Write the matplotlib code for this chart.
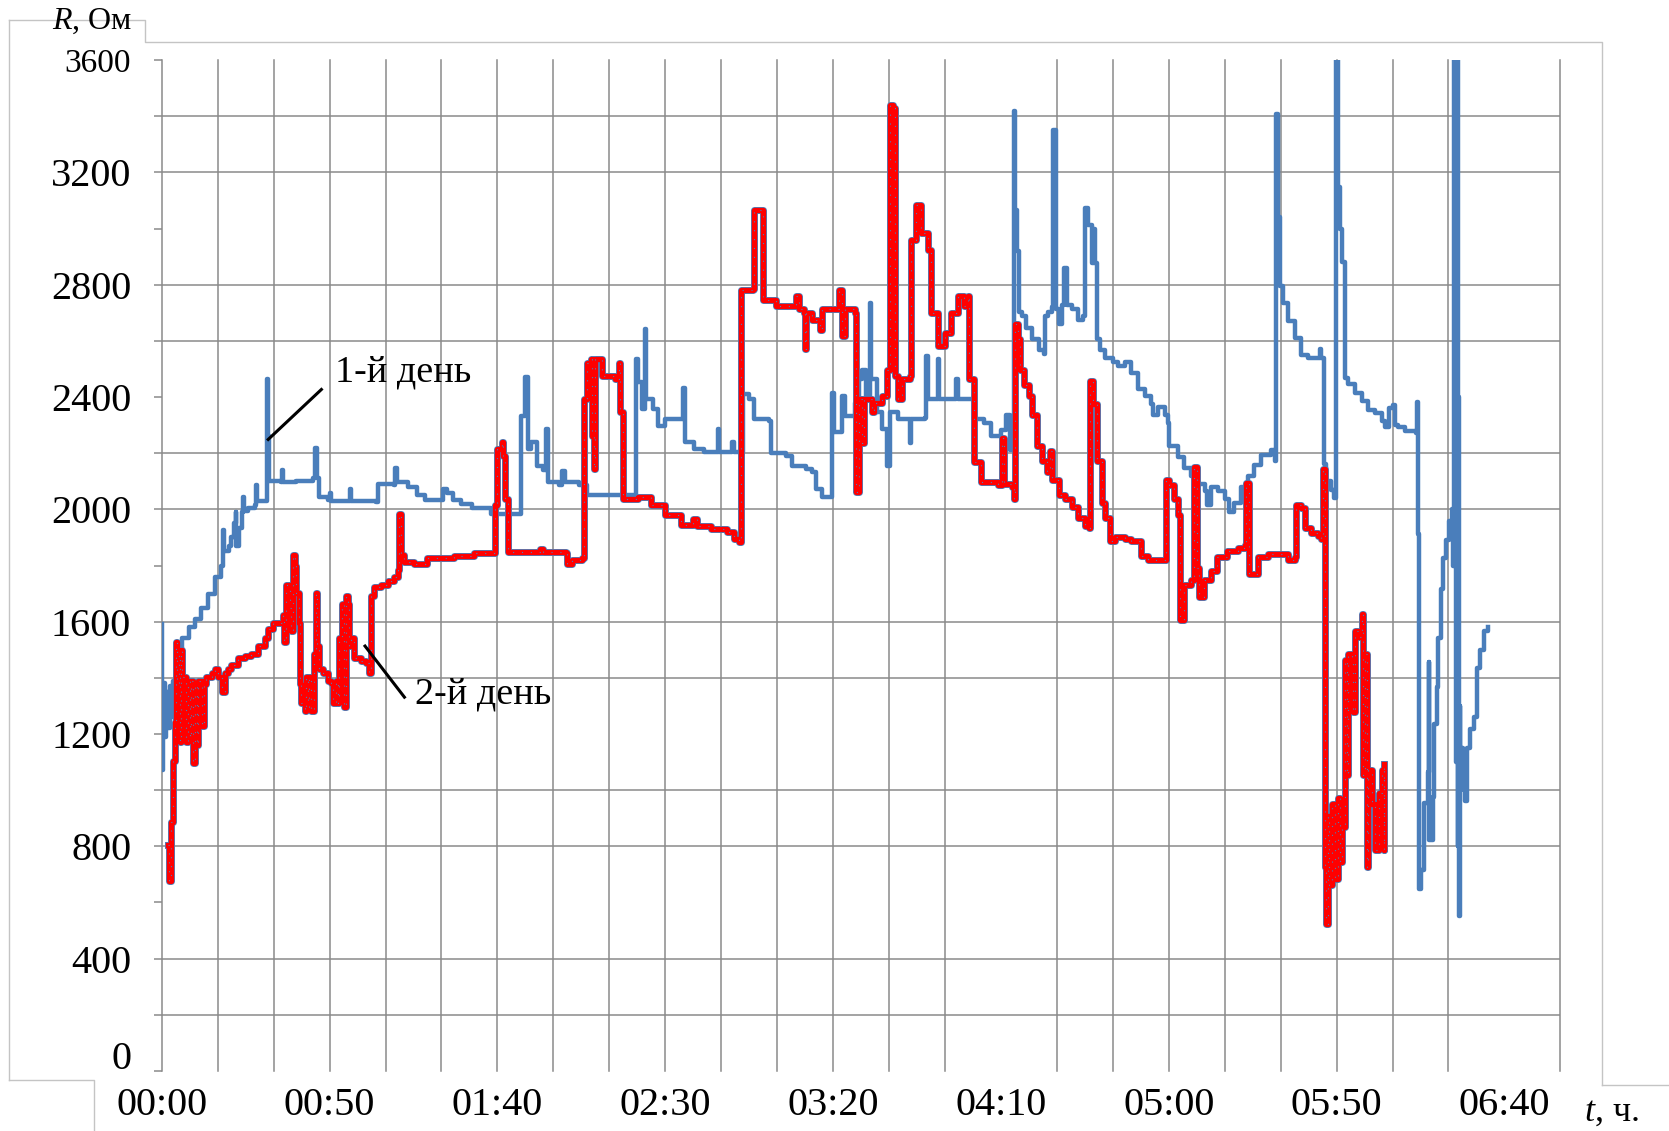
import numpy as np
import matplotlib
matplotlib.use('Agg')
import matplotlib.pyplot as plt
from matplotlib.lines import Line2D
from matplotlib.transforms import ScaledTranslation

plt.rcParams['font.family'] = ['Liberation Serif', 'DejaVu Serif']
plt.rcParams['mathtext.fontset'] = 'custom'
plt.rcParams['mathtext.rm'] = 'Liberation Serif'
plt.rcParams['mathtext.it'] = 'Liberation Serif:italic'

# time in seconds from start, resistance in Ohm
day1 = [
    (0, 1590), (0, 1070), (20, 1380), (50, 1190), (80, 1350), (110, 1220), (140, 1370),
    (170, 1260), (200, 1390), (230, 1300), (260, 1400), (280, 1360), (300, 1460),
    (360, 1540), (480, 1580), (600, 1610), (710, 1650), (830, 1700), (950, 1760),
    (1060, 1800), (1090, 1840), (1100, 1925), (1115, 1850), (1200, 1870), (1240, 1900),
    (1300, 1950), (1320, 1990), (1335, 1870), (1390, 1935), (1440, 1990), (1455, 2045),
    (1470, 1995), (1550, 2005), (1660, 2015), (1690, 2085), (1705, 2030), (1860, 2030),
    (1875, 2465), (1895, 2260), (1925, 2100), (2140, 2098), (2150, 2140), (2170, 2098),
    (2400, 2100), (2700, 2110), (2735, 2220), (2780, 2110), (2815, 2045), (2970, 2035),
    (3000, 2057), (3030, 2030), (3350, 2030), (3365, 2071), (3390, 2030), (3830, 2026),
    (3860, 2091), (4150, 2085), (4175, 2146), (4210, 2098), (4400, 2078), (4570, 2050),
    (4700, 2035), (5000, 2035), (5020, 2071), (5100, 2057), (5200, 2035), (5350, 2018),
    (5550, 2005), (5880, 1985), (6420, 1985), (6430, 2334), (6490, 2470), (6550, 2215),
    (6600, 2240), (6700, 2156), (6810, 2140), (6860, 2286), (6910, 2097), (7100, 2085),
    (7160, 2138), (7200, 2097), (7460, 2085), (7600, 2052), (8460, 2050), (8470, 2535),
    (8520, 2452), (8576, 2357), (8635, 2641), (8660, 2393), (8782, 2357), (8870, 2298),
    (8988, 2322), (9282, 2322), (9320, 2434), (9360, 2239), (9518, 2215), (9700, 2204),
    (9950, 2286), (9970, 2204), (10165, 2204), (10200, 2240), (10230, 2204), (10330, 2204),
    (10385, 2410), (10500, 2392), (10590, 2321), (10860, 2315), (10890, 2202), (11150, 2190),
    (11270, 2155), (11510, 2143), (11630, 2132), (11690, 2072), (11800, 2043), (11970, 2043),
    (11982, 2416), (12010, 2274), (12160, 2404), (12220, 2333), (12400, 2380), (12460, 2463),
    (12515, 2498), (12580, 2392), (12655, 2735), (12680, 2463), (12780, 2345), (12870, 2286),
    (12960, 2155), (13020, 2345), (13165, 2321), (13340, 2321), (13370, 2238), (13400, 2321),
    (13640, 2327), (13670, 2546), (13700, 2392), (13875, 2534), (13900, 2392), (14200, 2463),
    (14230, 2392), (14350, 2392), (14525, 2321), (14700, 2309), (14820, 2262), (15000, 2281),
    (15100, 2335), (15160, 2213), (15200, 2230), (15230, 3420), (15260, 3068), (15290, 2919),
    (15320, 2702), (15380, 2688), (15440, 2647), (15555, 2607), (15675, 2566), (15763, 2553),
    (15790, 2688), (15850, 2702), (15910, 2720), (15940, 3353), (15985, 2715), (16030, 2661),
    (16090, 2729), (16135, 2858), (16175, 2729), (16270, 2715), (16385, 2675), (16475, 2688),
    (16500, 3075), (16560, 3014), (16620, 2878), (16670, 3000), (16690, 2878), (16710, 2607),
    (16770, 2566), (16860, 2539), (17000, 2525), (17095, 2512), (17215, 2525), (17330, 2485),
    (17450, 2430), (17570, 2403), (17690, 2376), (17720, 2336), (17805, 2363), (17925, 2336),
    (17985, 2308), (18000, 2227), (18100, 2227), (18160, 2186), (18280, 2146), (18400, 2119),
    (18520, 2091), (18640, 2064), (18690, 2016), (18760, 2078), (18875, 2064), (19000, 2037),
    (19080, 1990), (19170, 2024), (19290, 2078), (19410, 2119), (19530, 2159), (19650, 2193),
    (19820, 2213), (19900, 2173), (19920, 3407), (19960, 3041), (19990, 2795), (20040, 2734),
    (20130, 2672), (20250, 2611), (20370, 2549), (20490, 2539), (20670, 2540), (20700, 2570),
    (20720, 2540), (20770, 2540), (20780, 2160), (20820, 2100), (20900, 2070), (20960, 2040),
    (20990, 3700), (21010, 3700), (21030, 3150), (21070, 3000), (21100, 2880), (21150, 2467),
    (21210, 2447), (21330, 2416), (21450, 2385), (21570, 2354), (21690, 2344), (21810, 2313),
    (21865, 2295), (21930, 2360), (22000, 2371), (22040, 2300), (22100, 2295), (22220, 2280),
    (22425, 2273), (22440, 2382), (22450, 1913), (22480, 649), (22510, 714), (22570, 954),
    (22630, 1063), (22645, 1456), (22660, 823), (22720, 976), (22750, 1237), (22795, 1368),
    (22820, 1543), (22865, 1717), (22910, 1826), (22950, 1891), (23010, 1957), (23070, 2000),
    (23090, 1800), (23100, 3700), (23115, 2600), (23125, 3700), (23140, 1100), (23150, 3700),
    (23165, 800), (23175, 2400), (23185, 550), (23200, 1300), (23215, 1000), (23230, 1150),
    (23260, 1050), (23280, 1130), (23300, 960), (23335, 1150), (23380, 1216), (23450, 1259),
    (23510, 1434), (23570, 1499), (23630, 1565), (23700, 1580),
]

day2 = [
    (120, 806), (125, 676), (166, 887), (208, 1105), (238, 1241), (250, 1527), (270, 1377),
    (300, 1486), (320, 1173), (340, 1500), (356, 1404), (416, 1404), (440, 1173), (470, 1390),
    (500, 1186), (530, 1390), (564, 1098), (590, 1377), (623, 1159), (650, 1390), (713, 1227),
    (760, 1377), (790, 1404), (850, 1404), (900, 1418), (950, 1431), (1010, 1404), (1069, 1350),
    (1128, 1418), (1188, 1431), (1247, 1445), (1366, 1472), (1484, 1479), (1603, 1486),
    (1722, 1513), (1841, 1540), (1900, 1574), (1990, 1595), (2078, 1595), (2167, 1622),
    (2190, 1527), (2226, 1731), (2286, 1649), (2310, 1567), (2345, 1839), (2375, 1799),
    (2400, 1703), (2446, 1595), (2464, 1377), (2490, 1309), (2553, 1282), (2580, 1404),
    (2613, 1295), (2640, 1404), (2672, 1282), (2720, 1486), (2760, 1703), (2780, 1513),
    (2820, 1431), (2880, 1418), (2970, 1390), (3030, 1380), (3060, 1309), (3117, 1390),
    (3150, 1309), (3177, 1540), (3218, 1663), (3250, 1295), (3295, 1690), (3325, 1663),
    (3355, 1513), (3385, 1540), (3444, 1472), (3563, 1459), (3652, 1452), (3711, 1418),
    (3741, 1690), (3800, 1724), (3919, 1731), (4038, 1744), (4157, 1758), (4216, 1785),
    (4246, 1982), (4276, 1839), (4330, 1812), (4513, 1805), (4750, 1826), (4988, 1826),
    (5225, 1833), (5576, 1846), (5930, 1846), (5960, 2014), (6000, 2215), (6076, 2239),
    (6105, 2190), (6135, 2038), (6194, 1849), (6694, 1849), (6753, 1860), (6810, 1849),
    (7223, 1843), (7253, 1807), (7341, 1819), (7518, 1825), (7547, 2393), (7606, 2523),
    (7665, 2535), (7690, 2263), (7723, 2144), (7750, 2535), (7812, 2535), (7870, 2476),
    (8106, 2464), (8165, 2523), (8194, 2346), (8253, 2038), (8518, 2044), (8753, 2014),
    (8988, 1979), (9282, 1943), (9488, 1967), (9530, 1967), (9576, 1940), (9812, 1931),
    (10106, 1920), (10223, 1896), (10320, 1884), (10355, 2782), (10562, 2785), (10592, 3066),
    (10710, 3066), (10740, 2747), (10976, 2723), (11300, 2723), (11331, 2760), (11390, 2712),
    (11480, 2700), (11497, 2570), (11520, 2700), (11627, 2676), (11775, 2640), (11805, 2712),
    (12070, 2712), (12100, 2782), (12160, 2617), (12220, 2712), (12400, 2700), (12408, 2061),
    (12456, 2392), (12515, 2238), (12560, 2392), (12692, 2345), (12740, 2380), (12870, 2404),
    (12960, 2498), (13018, 3439), (13077, 3430), (13107, 2475), (13166, 2392), (13225, 2463),
    (13373, 2475), (13402, 2960), (13491, 3084), (13580, 2984), (13698, 2924), (13757, 2700),
    (13876, 2581), (13994, 2629), (14112, 2700), (14230, 2759), (14349, 2723), (14408, 2759),
    (14438, 2463), (14527, 2167), (14645, 2096), (14941, 2085), (15023, 2254), (15050, 2091),
    (15200, 2078), (15240, 2037), (15260, 2661), (15307, 2607), (15350, 2498), (15408, 2444),
    (15497, 2403), (15556, 2336), (15645, 2227), (15734, 2173), (15822, 2132), (15882, 2207),
    (15910, 2105), (16030, 2051), (16148, 2037), (16266, 2010), (16385, 1969), (16503, 1942),
    (16580, 1935), (16592, 2458), (16651, 2376), (16710, 2173), (16800, 2024), (16858, 1969),
    (16947, 1888), (17036, 1902), (17214, 1895), (17332, 1888), (17510, 1834), (17628, 1820),
    (17910, 1821), (17945, 2105), (18013, 2085), (18102, 2037), (18170, 1980), (18205, 1606),
    (18270, 1729), (18390, 1750), (18450, 2150), (18510, 1791), (18540, 1688), (18630, 1750),
    (18750, 1780), (18870, 1832), (19050, 1852), (19230, 1862), (19370, 1873), (19390, 2095),
    (19440, 1770), (19530, 1770), (19590, 1832), (19770, 1842), (20010, 1842), (20130, 1821),
    (20250, 1832), (20280, 2016), (20370, 2006), (20430, 1934), (20550, 1914), (20670, 1904),
    (20730, 1893), (20760, 2145), (20790, 2057), (20800, 725), (20815, 524), (20850, 909),
    (20870, 663), (20910, 950), (20970, 684), (21030, 971), (21060, 745), (21090, 868),
    (21150, 1463), (21180, 1053), (21210, 1483), (21270, 1470), (21300, 1278), (21330, 1565),
    (21390, 1545), (21450, 1627), (21480, 1053), (21510, 1483), (21540, 725), (21570, 1073),
    (21630, 950), (21690, 786), (21750, 991), (21810, 1073), (21840, 786), (21850, 1094),
]

day1_t, day1_r = np.array(day1).T
day2_t, day2_r = np.array(day2).T

x_ticks = [0, 3000, 6000, 9000, 12000, 15000, 18000, 21000, 24000]
x_labels = ['00:00', '00:50', '01:40', '02:30', '03:20', '04:10', '05:00', '05:50', '06:40']
y_ticks = [0, 400, 800, 1200, 1600, 2000, 2400, 2800, 3200, 3600]
# grid lines that are visible in the original
h_grid = [200, 400, 800, 1000, 1400, 1600, 2000, 2200, 2600, 2800, 3200, 3400]
v_grid = [t for t in range(0, 26000, 1000) if t not in (15000, 24000)]

W, H = 1669, 1131
fig = plt.figure(figsize=(W / 100, H / 100), dpi=100)
ax = fig.add_axes([0.0969, 0.0532, 0.8380, 0.8936])
ax.set_xlim(0, 25000)
ax.set_ylim(0, 3600)

gcol = '#8a8a8a'
for y in h_grid:
    ax.axhline(y, color=gcol, lw=1.1, zorder=1)
for x in v_grid:
    ax.axvline(x, color=gcol, lw=1.1, zorder=1, clip_on=False)

blue = '#4a7ebb'
ax.plot(day1_t, day1_r, color=blue, lw=3.2, drawstyle='steps-post', zorder=3)
ax.plot(day2_t, day2_r, color=blue, lw=5.0, drawstyle='steps-post', zorder=4)
ax.plot(day2_t, day2_r, color='#ff0000', lw=3.8, drawstyle='steps-post', zorder=5)
ax.plot(day2_t, day2_r, color=blue, lw=0.8, ls=(0, (1, 7)), drawstyle='steps-post', zorder=6)

for s in ax.spines.values():
    s.set_visible(False)

ax.set_xticks(x_ticks)
ax.set_xticklabels(x_labels)
ax.set_yticks(y_ticks)
ax.set_yticklabels([str(v) for v in y_ticks])
ax.set_yticks(np.arange(0, 3601, 200), minor=True)
ax.tick_params(axis='x', length=0, pad=12, labelsize=29)
ax.tick_params(axis='y', which='both', length=6, width=1.1, color=gcol, direction='out',
               pad=16, labelsize=29)

# small tweaks on the end labels
ticks = ax.yaxis.get_major_ticks()
ticks[0].label1.set_transform(ticks[0].label1.get_transform()
                              + ScaledTranslation(0, 0.16, fig.dpi_scale_trans))
ticks[-1].label1.set_fontsize(24)

# callouts
ax.plot([1903, 2854], [2249, 2427], color='black', lw=2.2, zorder=7)
ax.text(3101, 2488, '1-й день', fontsize=27.5, ha='left', va='center', zorder=8)
ax.plot([3634, 4338], [1513, 1331], color='black', lw=2.2, zorder=7)
ax.text(4528, 1342, '2-й день', fontsize=27.5, ha='left', va='center', zorder=8)

fig.text(92 / W, 1 - 21 / H, '$R$, Ом', fontsize=23, ha='center', va='center')
fig.text(1611 / W, 1 - 1112 / H, '$t$, ч.', fontsize=26, ha='center', va='center')

# light frame of the pasted picture
def frame(xs, ys):
    fig.add_artist(Line2D([x / W for x in xs], [1 - y / H for y in ys],
                          color='#c4c4c4', lw=1.0, transform=fig.transFigure))

frame([9, 9], [20, 1080])
frame([9, 145, 145, 1602, 1602], [20, 20, 42, 42, 1085])
frame([9, 94, 94], [1080, 1080, 1131])
frame([1602, 1669], [1085, 1085])

fig.savefig('out.png', dpi=100)
